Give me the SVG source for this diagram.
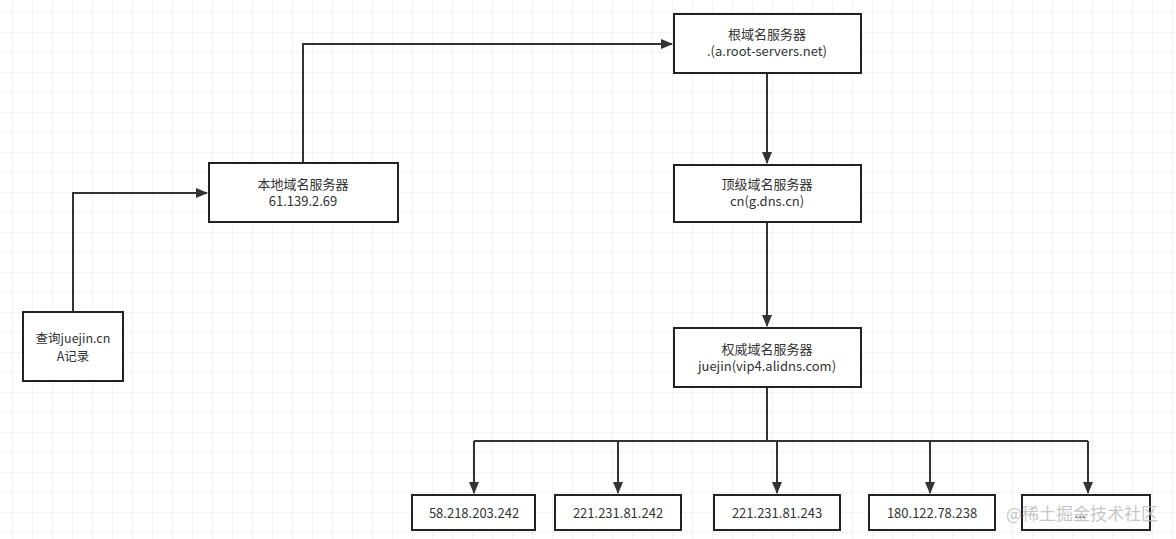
<svg xmlns="http://www.w3.org/2000/svg" width="1176" height="539" viewBox="0 0 1176 539">
<defs>
<pattern id="g" width="20" height="20" patternUnits="userSpaceOnUse" x="13" y="13"><path d="M20 0V20M0 20H20" fill="none" stroke="#e6e6e6" stroke-width="1"/></pattern>
<marker id="a" markerWidth="12" markerHeight="10" refX="11" refY="5" orient="auto" markerUnits="userSpaceOnUse"><path d="M0 0L12 5L0 10Z" fill="#333"/></marker>
</defs>
<style>
.n rect{fill:#fff;stroke:#222;stroke-width:2}
.n text{font-family:"Noto Sans CJK SC","Liberation Sans",sans-serif;font-size:13px;fill:#333;text-anchor:middle}
#c path{fill:none;stroke:#333;stroke-width:2}
</style>
<rect width="1176" height="539" fill="#fff"/>
<rect width="1176" height="539" fill="url(#g)"/>
<g id="c">
<path d="M73 312V193H207" marker-end="url(#a)"/>
<path d="M303 163V44H672" marker-end="url(#a)"/>
<path d="M767 73V163" marker-end="url(#a)"/>
<path d="M767 222V326" marker-end="url(#a)"/>
<path d="M767 387V441"/>
<path d="M474 441H1088"/>
<path d="M474 441V493" marker-end="url(#a)"/>
<path d="M618 441V493" marker-end="url(#a)"/>
<path d="M777 441V493" marker-end="url(#a)"/>
<path d="M930 441V493" marker-end="url(#a)"/>
<path d="M1088 441V493" marker-end="url(#a)"/>
</g>
<g id="root" class="n"><rect x="674" y="14" width="187" height="59"/><text x="767" y="39">根域名服务器</text><text x="767" y="56">.(a.root-servers.net)</text></g>
<g id="tld" class="n"><rect x="674" y="165" width="187" height="57"/><text x="767" y="189">顶级域名服务器</text><text x="767" y="206">cn(g.dns.cn)</text></g>
<g id="auth" class="n"><rect x="674" y="328" width="187" height="59"/><text x="767" y="354">权威域名服务器</text><text x="767" y="371">juejin(vip4.alidns.com)</text></g>
<g id="local" class="n"><rect x="209" y="163" width="189" height="59"/><text x="303" y="189">本地域名服务器</text><text x="303" y="206">61.139.2.69</text></g>
<g id="query" class="n"><rect x="23" y="312" width="100" height="69"/><text x="73" y="343" style="font-size:12.5px">查询juejin.cn</text><text x="73" y="361" style="font-size:12.5px">A记录</text></g>
<g id="ip1" class="n"><rect x="412" y="495" width="123" height="35"/><text x="474" y="518">58.218.203.242</text></g>
<g id="ip2" class="n"><rect x="555" y="495" width="126" height="35"/><text x="618" y="518">221.231.81.242</text></g>
<g id="ip3" class="n"><rect x="714" y="495" width="126" height="35"/><text x="777" y="518">221.231.81.243</text></g>
<g id="ip4" class="n"><rect x="869" y="495" width="126" height="35"/><text x="932" y="518">180.122.78.238</text></g>
<g id="ip5" class="n"><rect x="1022" y="495" width="128" height="35"/><text x="1080" y="518">...</text></g>
<text x="1158" y="520" text-anchor="end" font-family="Noto Sans CJK SC,sans-serif" font-size="17" fill="#bbb" fill-opacity="0.85">@稀土掘金技术社区</text>
</svg>
